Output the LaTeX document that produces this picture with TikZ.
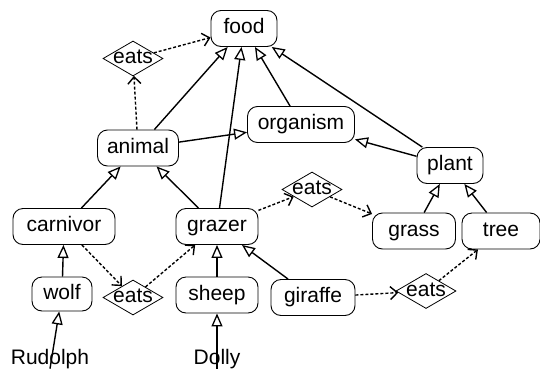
\documentclass[tikz,border=0pt]{standalone}
\usepackage{fontspec}
\setmainfont{Liberation Sans}
\usetikzlibrary{shapes.geometric,arrows.meta}
\begin{document}
\begin{tikzpicture}[x=1pt,y=-1pt,
  lbl/.style={font=\fontsize{21}{24}\selectfont, text height=15pt, text depth=4.5pt},
  cls/.style={lbl, draw, rounded corners=10pt, line width=0.9pt, minimum height=36pt, inner sep=0pt},
  rel/.style={draw, diamond, line width=0.8pt, minimum width=60pt, minimum height=35pt, inner sep=0pt,
    label={[lbl, inner sep=0pt]center:eats}},
  plain/.style={lbl, inner sep=0pt},
  isa/.style={line width=1.4pt, -{Triangle[open,length=13pt,width=11pt,line width=1.3pt]}},
  eatsedge/.style={line width=1.4pt, dash pattern=on 3pt off 2pt, -{Straight Barb[length=7pt,width=13pt,line width=1.4pt]}}
]
\useasboundingbox (0,0) rectangle (540,370);
% class nodes
\node[cls, minimum width=66pt]  (food)     at (244,28.5)  {food};
\node[cls, minimum width=81pt]  (animal)   at (138,148)   {animal};
\node[cls, minimum width=107pt] (organism) at (301,124.5) {organism};
\node[cls, minimum width=66pt]  (plant)    at (450,165.5) {plant};
\node[cls, minimum width=102pt] (carnivor) at (64,226.5)  {carnivor};
\node[cls, minimum width=82pt]  (grazer)   at (217,226.5) {grazer};
\node[cls, minimum width=83pt]  (grass)    at (414,231)   {grass};
\node[cls, minimum width=78pt]  (tree)     at (501,231)   {tree};
\node[cls, minimum width=60pt, minimum height=34pt]  (wolf)  at (62,294)  {wolf};
\node[cls, minimum width=82pt]  (sheep)    at (217,295)   {sheep};
\node[cls, minimum width=84pt]  (giraffe)  at (313,297.5) {giraffe};
% relation diamonds
\node[rel] (eatsA) at (133,58.5) {};
\node[rel] (eatsB) at (312,189.5) {};
\node[rel] (eatsC) at (133,297.5) {};
\node[rel] (eatsD) at (426,291) {};
% instances
\node[plain, anchor=base] (rudolph) at (50,364) {Rudolph};
\node[plain, anchor=base] (dolly)   at (217,364) {Dolly};
% is-a edges
\draw[isa] (animal) -- (food);
\draw[isa] (grazer) -- (food);
\draw[isa] (organism) -- (food);
\draw[isa] (plant) -- (food);
\draw[isa] (animal) -- (organism);
\draw[isa] (plant) -- (organism);
\draw[isa] (carnivor) -- (animal);
\draw[isa] (grazer) -- (animal);
\draw[isa] (grass) -- (plant);
\draw[isa] (tree) -- (plant);
\draw[isa] (wolf) -- (carnivor);
\draw[isa] (sheep) -- (grazer);
\draw[isa] (giraffe) -- (grazer);
\draw[isa] (rudolph.south) -- (wolf);
\draw[isa] (dolly.south) -- (sheep);
% eats edges
\draw[eatsedge] (animal) -- (eatsA);
\draw[eatsedge] (eatsA) -- (food);
\draw[eatsedge] (grazer) -- (eatsB);
\draw[eatsedge] (eatsB) -- (grass);
\draw[eatsedge] (carnivor) -- (eatsC);
\draw[eatsedge] (eatsC) -- (grazer);
\draw[eatsedge] (giraffe) -- (eatsD);
\draw[eatsedge] (eatsD) -- (tree);
\end{tikzpicture}
\end{document}
